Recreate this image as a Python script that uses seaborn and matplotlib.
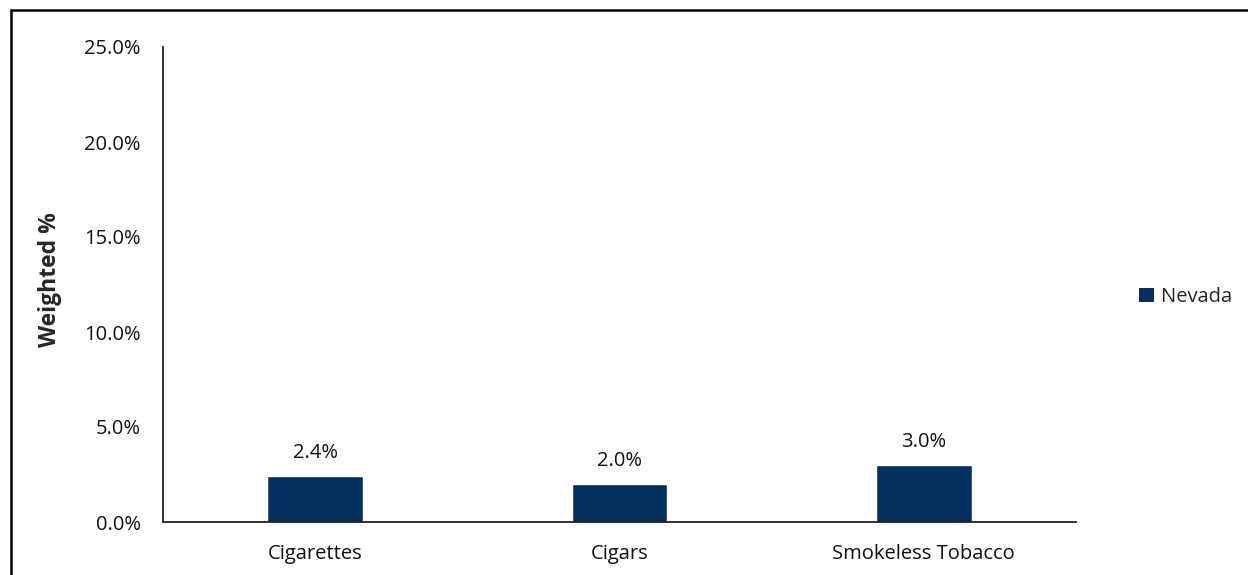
import matplotlib
matplotlib.use("Agg")
import matplotlib.pyplot as plt
from matplotlib.patches import Rectangle, Patch
from matplotlib.ticker import FuncFormatter
import seaborn as sns
import pandas as pd

categories = ["Cigarettes", "Cigars", "Smokeless Tobacco"]
nevada = [2.4, 2.0, 3.0]
series_name = "Nevada"
yticks = [0, 5, 10, 15, 20, 25]

bar_color = "#03305E"

sns.set_theme(style="white")
plt.rcParams["font.family"] = ["Open Sans", "DejaVu Sans"]

df = pd.DataFrame({"category": categories, "value": nevada, "series": series_name})

fig = plt.figure(figsize=(12.48, 5.75), dpi=100)
ax = fig.add_axes([163 / 1248, 1 - 522 / 575, (1076 - 163) / 1248, (522 - 47) / 575])

sns.barplot(data=df, x="category", y="value", color=bar_color, width=0.315,
            saturation=1, ax=ax, legend=False)

for i, v in enumerate(nevada):
    ax.text(i, v + 0.7, f"{v:.1f}%", ha="center", va="bottom", fontsize=14.5, color="#111111")

ax.set_ylim(0, 25)
ax.set_yticks(yticks)
ax.yaxis.set_major_formatter(FuncFormatter(lambda y, _: f"{y:.1f}%"))
ax.set_xlim(-0.5, 2.5)
ax.set_xlabel("")
ax.set_ylabel("Weighted %", fontsize=16.5, fontweight="bold", labelpad=10)
ax.yaxis.set_label_coords(-0.111, 0.51)
ax.tick_params(axis="both", labelsize=14.5, colors="#111111", length=0)
ax.tick_params(axis="y", pad=16)
ax.tick_params(axis="x", pad=16)

for side in ["top", "right"]:
    ax.spines[side].set_visible(False)
for side in ["left", "bottom"]:
    ax.spines[side].set_color("#222222")
    ax.spines[side].set_linewidth(1.3)

handles = [Patch(facecolor=bar_color, edgecolor="none", label=series_name)]
fig.legend(handles=handles, loc="center left", bbox_to_anchor=(1121 / 1248, 1 - 297 / 575),
           frameon=False, fontsize=14.5, handlelength=0.75, handleheight=0.75, handletextpad=0.35)

# outer frame of the figure box
fig.add_artist(Rectangle((11 / 1248, -0.1), 1.2, 1.1 - 10 / 575,
                         transform=fig.transFigure, fill=False, edgecolor="black",
                         linewidth=1.8))

fig.savefig("out.png", dpi=100)
